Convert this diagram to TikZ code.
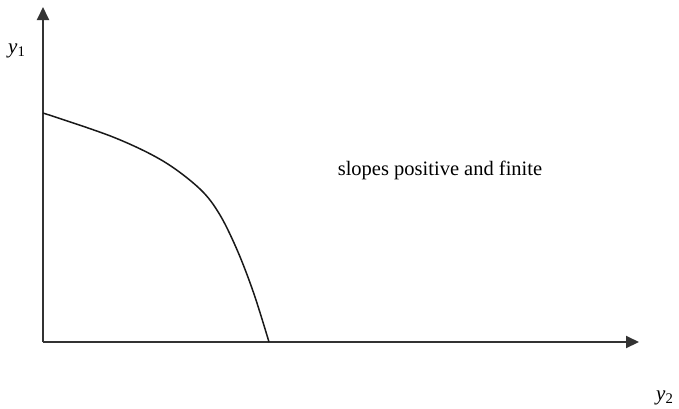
\documentclass[tikz,border=0pt]{standalone}
\usepackage{fontspec}
\setmainfont{Liberation Serif}
\usetikzlibrary{arrows.meta}
\begin{document}
\begin{tikzpicture}[x=1pt,y=-1pt,
  axisline/.style={line width=2pt,draw=black!80,-{Triangle[length=13pt,width=12pt]}},
  curveline/.style={line width=1.5pt,draw=black!90},
  lbl/.style={inner sep=0pt,font=\fontsize{20.5}{24}\selectfont},
  axlbl/.style={inner sep=0pt,font=\fontsize{21}{24}\selectfont}]
\useasboundingbox (0,0) rectangle (679,408);
\coordinate (O) at (43,342);
\coordinate (ytop) at (43,7);
\coordinate (xend) at (639,342);
\draw[axisline] (O) -- (ytop);
\draw[axisline] (O) -- (xend);
\draw[curveline] plot[smooth,tension=0.55] coordinates {(43,113) (113,137) (163,161) (200,189) (220,215) (238,252) (254,294) (269,342)};
\node[axlbl,anchor=base west] (y1) at (8,53) {\textit{y}\textsubscript{1}};
\node[axlbl,anchor=base west] (y2) at (656,400) {\textit{y}\textsubscript{2}};
\node[lbl,anchor=base] (txt) at (440,175) {slopes positive and finite};
\end{tikzpicture}
\end{document}
